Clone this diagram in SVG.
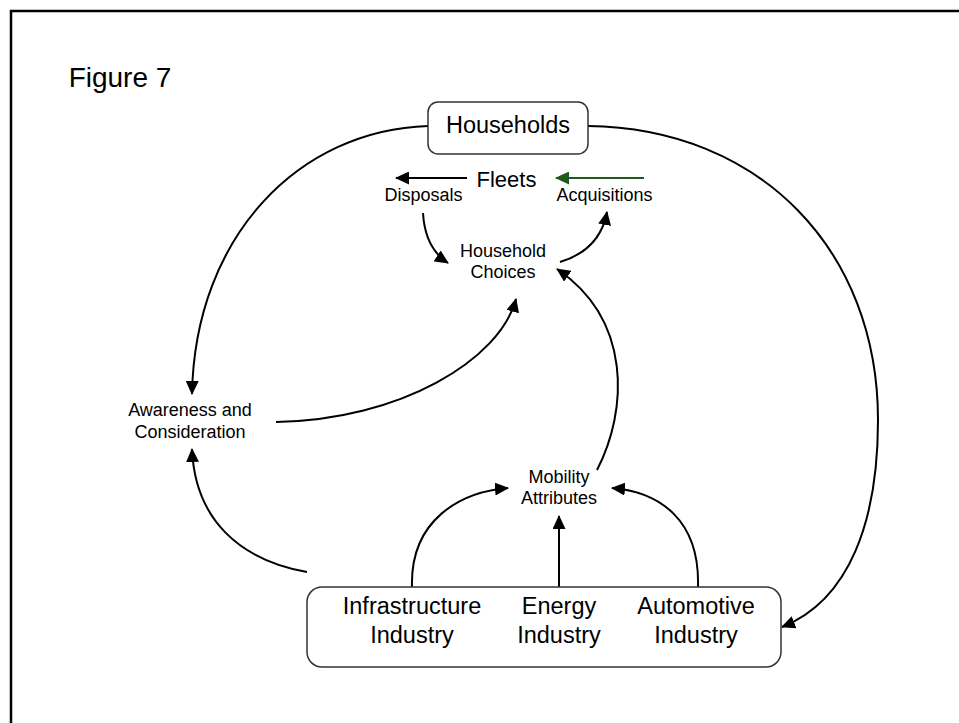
<svg xmlns="http://www.w3.org/2000/svg" width="959" height="723" viewBox="0 0 959 723">
<style>
text{font-family:"Liberation Sans",Arial,sans-serif;fill:#000;text-anchor:middle}
.big{font-size:23.5px}
.sm{font-size:18px}
.box{fill:#fff;stroke:#333;stroke-width:1.5}
.c{fill:none;stroke:#000;stroke-width:2}
</style>
<defs>
<marker id="ah" markerUnits="userSpaceOnUse" markerWidth="14" markerHeight="13" viewBox="0 0 14 13" refX="13" refY="6.5" orient="auto">
<path d="M0,0 L14,6.5 L0,13 z" fill="#000"/>
</marker>
<marker id="ahg" markerUnits="userSpaceOnUse" markerWidth="14" markerHeight="13" viewBox="0 0 14 13" refX="13" refY="6.5" orient="auto">
<path d="M0,0 L14,6.5 L0,13 z" fill="#1e5a1e"/>
</marker>
</defs>
<rect x="0" y="0" width="959" height="723" fill="#fff"/>
<path d="M11,725 L11,11 L961,11" fill="none" stroke="#000" stroke-width="2.5"/>
<text x="120" y="87" style="font-size:28px">Figure 7</text>
<g id="connectors">
<path class="c" d="M428,126 C300,130 195,235 192,394" marker-end="url(#ah)"/>
<path class="c" d="M588,126 C760,128 878,250 878,420 C878,520 850,600 782,627" marker-end="url(#ah)"/>
<path class="c" d="M467,178 L396,178" marker-end="url(#ah)"/>
<path d="M644,178 L556,178" fill="none" stroke="#1e5a1e" stroke-width="2" marker-end="url(#ahg)"/>
<path class="c" d="M423,213 Q425,248 448,263" marker-end="url(#ah)"/>
<path class="c" d="M560,262 Q600,250 607,212" marker-end="url(#ah)"/>
<path class="c" d="M276,422 C400,420 500,360 516,299" marker-end="url(#ah)"/>
<path class="c" d="M597,470 C628,410 632,320 557,269" marker-end="url(#ah)"/>
<path class="c" d="M307,572 C240,560 195,520 192,449" marker-end="url(#ah)"/>
<path class="c" d="M412,587 C410,520 460,492 508,488" marker-end="url(#ah)"/>
<path class="c" d="M559,587 L559,516" marker-end="url(#ah)"/>
<path class="c" d="M698,587 C700,520 660,492 612,488" marker-end="url(#ah)"/>
</g>
<g id="households">
<rect class="box" x="428" y="102" width="160" height="52" rx="10"/>
<text class="big" x="508" y="133">Households</text>
</g>
<g id="fleets">
<text x="506.5" y="187" style="font-size:22px">Fleets</text>
</g>
<g id="disposals">
<text class="sm" x="423.5" y="201">Disposals</text>
</g>
<g id="acquisitions">
<text class="sm" x="604.5" y="201">Acquisitions</text>
</g>
<g id="household-choices">
<text class="sm" x="503" y="257">Household</text>
<text class="sm" x="503" y="278">Choices</text>
</g>
<g id="awareness">
<text class="sm" x="190" y="416">Awareness and</text>
<text class="sm" x="190" y="438">Consideration</text>
</g>
<g id="mobility">
<text class="sm" x="559" y="483">Mobility</text>
<text class="sm" x="559" y="504">Attributes</text>
</g>
<g id="industry">
<rect class="box" x="307" y="587" width="474" height="80" rx="15"/>
<text class="big" x="412" y="614">Infrastructure</text>
<text class="big" x="412" y="643">Industry</text>
<text class="big" x="559" y="614">Energy</text>
<text class="big" x="559" y="643">Industry</text>
<text class="big" x="696" y="614">Automotive</text>
<text class="big" x="696" y="643">Industry</text>
</g>
</svg>
